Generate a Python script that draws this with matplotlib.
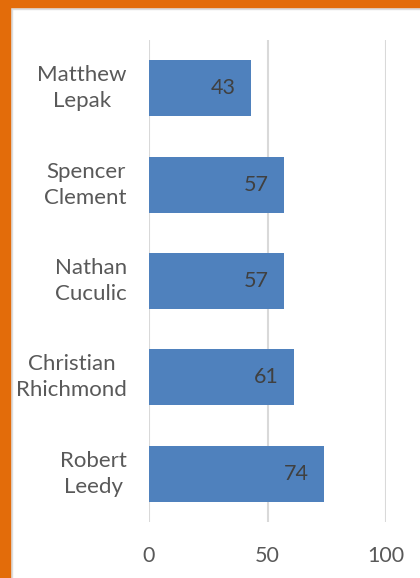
import matplotlib
matplotlib.use("Agg")
import matplotlib.pyplot as plt
from matplotlib.patches import Rectangle

names = ["Matthew\nLepak", "Spencer\nClement", "Nathan\nCuculic", "Christian\nRhichmond", "Robert\nLeedy"]
values = [43, 57, 57, 61, 74]
xticks = [0, 50, 100]

plt.rcParams['font.family'] = ['Lato', 'DejaVu Sans']

fig = plt.figure(figsize=(4.2, 5.78), dpi=100)
ax = fig.add_axes([149/420, 1-522/578, (386-149)/420, (522-40)/578])

pos = list(range(len(names)))
ax.barh(pos, values, height=0.58, color="#4F81BD", zorder=3)
ax.set_ylim(len(names)-0.5, -0.5)
ax.set_xlim(0, 100)
ax.set_xticks(xticks)
ax.set_xticklabels([str(t) for t in xticks], fontsize=15.5, color="#595959")
ax.set_yticks(pos)
ax.set_yticklabels(names, fontsize=16, color="#595959", ha="right", va="center",
                   multialignment="center", linespacing=1.38)
ax.tick_params(axis="y", length=0, pad=16)
ax.tick_params(axis="x", length=0, pad=17)
ax.grid(axis="x", color="#D9D9D9", linewidth=1.5, zorder=0)
for s in ax.spines.values():
    s.set_visible(False)

for p, v in zip(pos, values):
    ax.annotate(str(v), xy=(v, p), xytext=(-11, 0), textcoords="offset points",
                ha="right", va="center", fontsize=15.5, color="#404040", zorder=4)

# orange frame on left and top
fig.patches.append(Rectangle((0, 0), 10/420, 1, transform=fig.transFigure, color="#E36C0A", zorder=5))
fig.patches.append(Rectangle((0, 1-7/578), 1, 7/578, transform=fig.transFigure, color="#E36C0A", zorder=5))
fig.patches.append(Rectangle((10/420, 0), 2/420, 1-7/578, transform=fig.transFigure, color="#DDDDDD", zorder=4))
fig.patches.append(Rectangle((10/420, 1-9/578), 1, 2/578, transform=fig.transFigure, color="#DDDDDD", zorder=4))

fig.savefig("out.png", dpi=100)
